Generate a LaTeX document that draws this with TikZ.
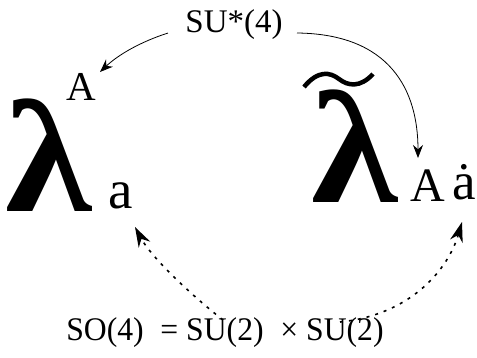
\documentclass[tikz,border=0pt]{standalone}
\usepackage{fontspec}
\setmainfont{Liberation Serif}
\usetikzlibrary{arrows.meta,positioning}

\begin{document}
\begin{tikzpicture}[x=1pt,y=-1pt,
  every node/.style={inner sep=0pt},
  biglam/.style={font=\fontsize{160}{160}\selectfont\bfseries,xscale=1.1},
  idx/.style={font=\fontsize{#1}{#1}\selectfont},
  grp/.style={font=\fontsize{#1}{#1}\selectfont},
  solidarr/.style={line width=0.8pt,-{Stealth[length=13pt,width=10pt]}},
  dotarr/.style={line width=1.6pt,dash pattern=on 3pt off 6pt,-{Stealth[length=20pt,width=13pt]}}]
\useasboundingbox (0,0) rectangle (477,357);
% the two spinors
\node[biglam] (lam) at (49,155) {λ};
\node[idx=41] (up) at (81,87) {A};
\node[idx=55] (lo) at (121,196) {a};
\node[biglam] (lamt) at (355,146) {λ};
\draw[line width=4.5pt] (304,87) .. controls (318,70) and (330,72) .. (339,79)
  .. controls (348,86) and (360,88) .. (373,74);   % tilde
\node[idx=48] (rA) at (428,186) {A};
\node[idx=53] (rd) at (464,182) {ȧ};
% groups
\node[grp=33] (su) at (234,25) {SU*(4)};
\node[grp=33,xscale=0.96] (so) at (225,333) {SO(4)\; = SU(2)\; × SU(2)};
\coordinate (s1) at (168,33);
\coordinate (s2) at (297,33);
\coordinate (t1) at (100,72);
\coordinate (t2) at (418,158);
\coordinate (d1) at (223,320);
\coordinate (d2) at (340,322);
\coordinate (e1) at (135,227);
\coordinate (e2) at (462,222);
\draw[solidarr] (s1) .. controls (140,42) and (118,55) .. (t1);
\draw[solidarr] (s2) .. controls (390,34) and (418,90) .. (t2);
\draw[dotarr] (d1) .. controls (185,290) and (150,255) .. (e1);
\draw[dotarr] (d2) .. controls (410,315) and (448,270) .. (e2);
\end{tikzpicture}
\end{document}
